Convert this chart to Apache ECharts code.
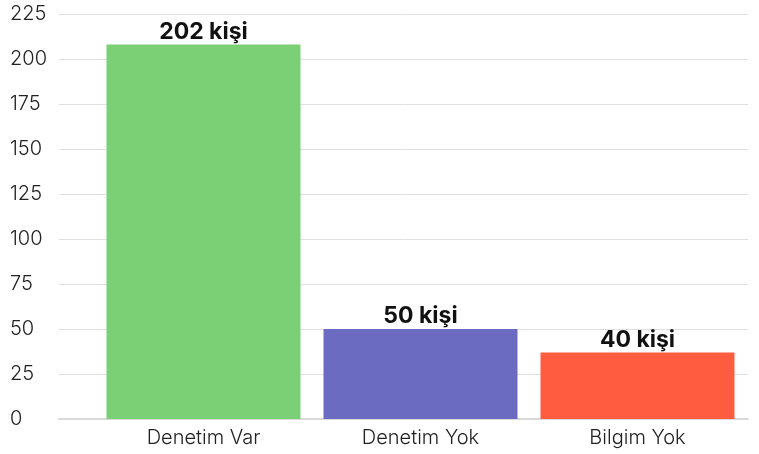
<!DOCTYPE html>
<html>
<head>
<meta charset="utf-8">
<script src="https://cdn.jsdelivr.net/npm/echarts@6/dist/echarts.min.js"></script>
<style>
  html, body { margin: 0; padding: 0; background: #fff; }
  #chart { width: 759px; height: 454px; }
</style>
</head>
<body>
<div id="chart"></div>
<script>
// chart data
var categories = ['Denetim Var', 'Denetim Yok', 'Bilgim Yok']
var barValues = [208, 50, 37]
var labelTexts = ['202 kişi', '50 kişi', '40 kişi']
var barColors = ['#7bd076', '#6b6bc2', '#ff5c40']

var yMax = 225
var yStep = 25

var chart = echarts.init(document.getElementById('chart'))
chart.setOption({
  animation: false,
  textStyle: { fontFamily: 'Inter' },
  grid: [
    // background grid holds the y axis and gridlines
    { left: 59, right: 11, top: 14, bottom: 35 },
    // bars sit a bit further right
    { left: 95, right: 13, top: 14, bottom: 35 }
  ],
  xAxis: [{
    gridIndex: 0,
    type: 'category',
    data: categories,
    axisLine: { show: true, lineStyle: { color: '#d9d9d9', width: 2 } },
    axisTick: { show: false },
    axisLabel: { show: false }
  }, {
    gridIndex: 1,
    type: 'category',
    data: categories,
    axisLine: { show: false },
    axisTick: { show: false },
    axisLabel: {
      margin: 9,
      fontSize: 20,
      fontWeight: 300,
      color: '#222',
      fontFamily: 'Inter'
    }
  }],
  yAxis: [{
    gridIndex: 0,
    type: 'value',
    min: 0,
    max: yMax,
    interval: yStep,
    axisLine: { show: false },
    axisTick: { show: false },
    splitLine: { lineStyle: { color: '#e0e0e0', width: 1 } },
    axisLabel: {
      align: 'left',
      margin: 49,
      fontSize: 20,
      fontWeight: 300,
      color: '#222',
      fontFamily: 'Inter'
    }
  }, {
    gridIndex: 1,
    type: 'value',
    min: 0,
    max: yMax,
    interval: yStep,
    show: false
  }],
  series: [{
    type: 'bar',
    xAxisIndex: 1,
    yAxisIndex: 1,
    barCategoryGap: '10.6%',
    data: barValues.map(function(v, i) {
      return { value: v, itemStyle: { color: barColors[i] } }
    }),
    label: {
      show: true,
      position: 'top',
      distance: 1,
      fontSize: 23,
      fontWeight: 'bold',
      color: '#111',
      fontFamily: 'Inter',
      formatter: function(p) {
        return labelTexts[p.dataIndex]
      }
    }
  }]
})
</script>
</body>
</html>
